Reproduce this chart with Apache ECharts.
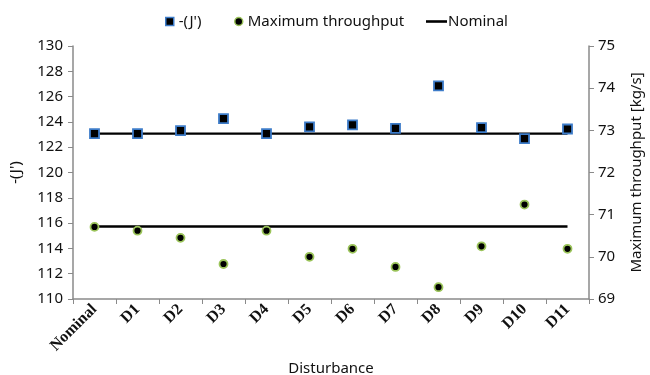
<!DOCTYPE html>
<html><head><meta charset="utf-8">
<script src="https://cdn.jsdelivr.net/npm/echarts@6/dist/echarts.min.js"></script>
<style>html,body{margin:0;padding:0;background:#fff}#c{width:650px;height:375px}</style>
</head><body><div id="c"></div>
<script>
const categories = ['Nominal','D1','D2','D3','D4','D5','D6','D7','D8','D9','D10','D11'];
const jValues = [123.07,123.07,123.31,124.26,123.07,123.60,123.76,123.49,126.84,123.55,122.68,123.44];
const throughputValues = [70.71,70.62,70.45,69.83,70.62,70.00,70.19,69.76,69.28,70.25,71.24,70.19];
const nominalJ = 123.07;
const nominalThroughput = 70.72;
const leftTicks = {min:110, max:130, interval:2};
const rightTicks = {min:69, max:75, interval:1};

const font = 'Noto Sans';
const legText = {fontSize:15, color:'#111', fontFamily:font};
const chart = echarts.init(document.getElementById('c'));
chart.setOption({
  animation:false,
  textStyle:{fontFamily:font},
  legend:[
    {top:9, left:160, itemWidth:8, itemHeight:8, textStyle:legText,
     data:[{name:'-(J\')', icon:'rect', itemStyle:{color:'#000', borderColor:'#3d7cc9', borderWidth:1.5}}]},
    {top:9, left:229, itemWidth:8, itemHeight:8, textStyle:legText,
     data:[{name:'Maximum throughput', icon:'circle', itemStyle:{color:'#000', borderColor:'#9bc45a', borderWidth:1.5}}]},
    {top:9, left:421, itemWidth:21, itemHeight:8, textStyle:Object.assign({padding:[0,0,0,-4]}, legText),
     data:[{name:'Nominal', icon:'path://M0,0H21V2.6H0Z', itemStyle:{color:'#000'}}]}
  ],
  grid:{left:73, right:61, top:46, bottom:76, containLabel:false, outerBoundsMode:'none'},
  xAxis:{
    type:'category', data:categories, boundaryGap:true,
    name:'Disturbance', nameLocation:'middle', nameGap:61,
    nameTextStyle:{fontSize:15, color:'#111'},
    axisLine:{lineStyle:{color:'#8a8a8a', width:1.5}},
    axisTick:{show:true, length:5, lineStyle:{color:'#8a8a8a'}},
    axisLabel:{rotate:45, fontSize:16, fontWeight:'bold', color:'#111', margin:8, fontFamily:'Liberation Serif'}
  },
  yAxis:[
    {type:'value', min:leftTicks.min, max:leftTicks.max, interval:leftTicks.interval,
     name:'-(J\')', nameLocation:'middle', nameGap:50, nameRotate:90,
     nameTextStyle:{fontSize:15, color:'#111'},
     splitLine:{show:false},
     axisLine:{show:true, lineStyle:{color:'#8a8a8a', width:1.5}},
     axisTick:{show:true, length:5, lineStyle:{color:'#8a8a8a'}},
     axisLabel:{fontSize:15, color:'#111', margin:10}},
    {type:'value', min:rightTicks.min, max:rightTicks.max, interval:rightTicks.interval,
     name:'Maximum throughput [kg/s]', nameLocation:'middle', nameGap:40, nameRotate:90,
     nameTextStyle:{fontSize:15, color:'#111'},
     splitLine:{show:false},
     axisLine:{show:true, lineStyle:{color:'#8a8a8a', width:1.5}},
     axisTick:{show:true, length:5, lineStyle:{color:'#8a8a8a'}},
     axisLabel:{fontSize:15, color:'#111', margin:9}}
  ],
  series:[
    {name:'Nominal', type:'line', yAxisIndex:0, data:categories.map(()=>nominalJ),
     symbol:'none', lineStyle:{color:'#000', width:2.4}, z:1},
    {name:'Nominal', type:'line', yAxisIndex:1, data:categories.map(()=>nominalThroughput),
     symbol:'none', lineStyle:{color:'#000', width:2.4}, z:1},
    {name:'-(J\')', type:'scatter', yAxisIndex:0, data:jValues, symbol:'rect', symbolSize:9,
     itemStyle:{color:'#000', borderColor:'#3d7cc9', borderWidth:1.8, opacity:1}, z:3},
    {name:'Maximum throughput', type:'scatter', yAxisIndex:1, data:throughputValues, symbol:'circle', symbolSize:8,
     itemStyle:{color:'#000', borderColor:'#9bc45a', borderWidth:1.8, opacity:1}, z:3}
  ]
});
</script></body></html>
